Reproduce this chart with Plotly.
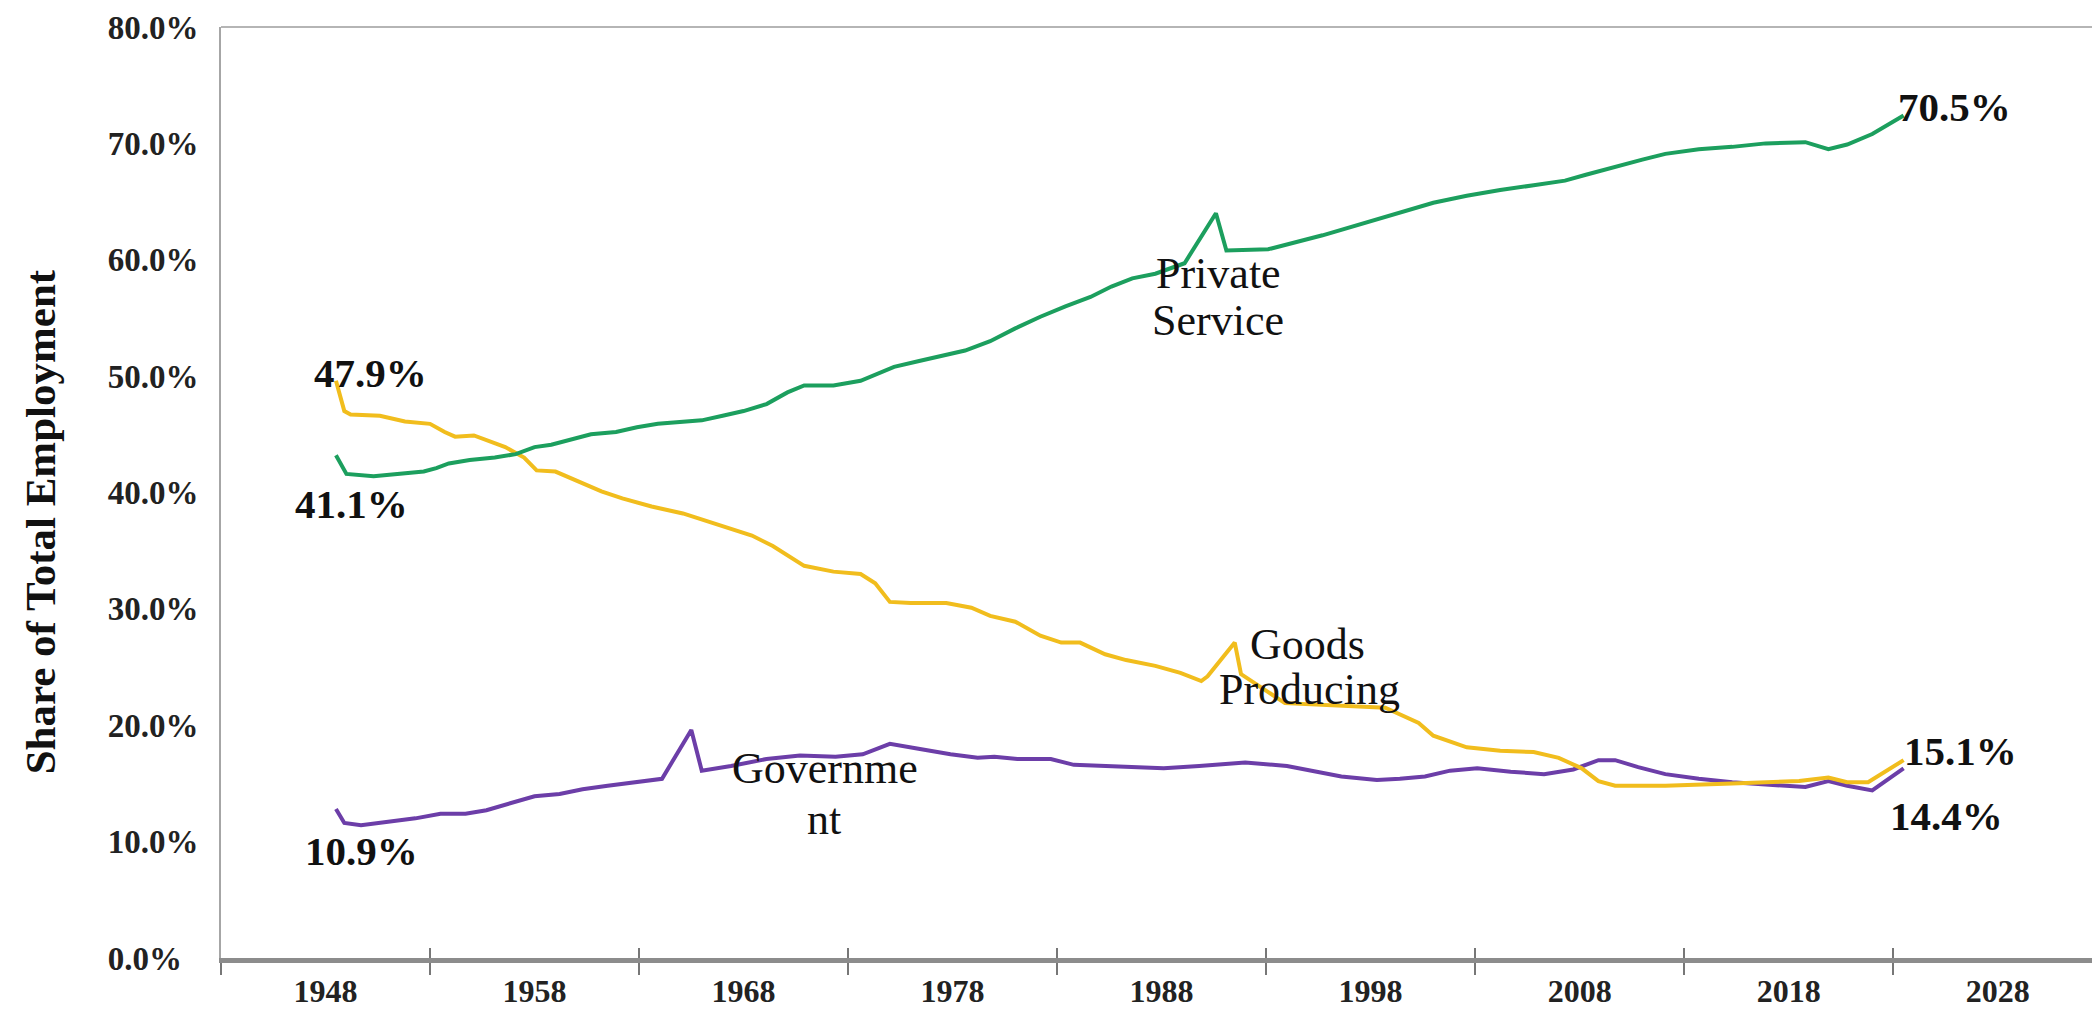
import plotly.graph_objects as go

# ---------------- data ----------------
private_x = [1948.0, 1948.5, 1949.8, 1951.0, 1952.2, 1952.8, 1953.4, 1954.4, 1955.6, 1956.6,
             1957.5, 1958.3, 1959.0, 1960.2, 1961.4, 1962.4, 1963.4, 1964.5, 1965.5, 1966.5,
             1967.5, 1968.6, 1969.6, 1970.4, 1971.8, 1973.1, 1973.8, 1974.7, 1975.9, 1976.9,
             1978.1, 1979.3, 1980.5, 1981.7, 1982.9, 1984.1, 1985.1, 1986.1, 1987.2, 1988.6,
             1990.1, 1990.6, 1992.6, 1995.2, 1996.9, 1998.9, 2000.5, 2002.1, 2003.7, 2005.3,
             2006.8, 2007.8, 2009.2, 2010.5, 2011.6, 2013.2, 2014.8, 2016.4, 2018.3, 2019.4,
             2020.3, 2021.5, 2023.0]
private_y = [43.2, 41.6, 41.4, 41.6, 41.8, 42.1, 42.5, 42.8, 43.0, 43.3,
             43.9, 44.1, 44.4, 45.0, 45.2, 45.6, 45.9, 46.1, 46.2, 46.6,
             47.0, 47.6, 48.6, 49.2, 49.2, 49.6, 50.1, 50.8, 51.3, 51.7,
             52.2, 53.0, 54.1, 55.1, 56.0, 56.8, 57.7, 58.4, 58.8, 59.7,
             64.0, 60.8, 60.9, 62.1, 63.0, 64.1, 64.9, 65.5, 66.0, 66.4,
             66.8, 67.3, 68.0, 68.6, 69.1, 69.5, 69.7, 70.0, 70.1, 69.5,
             69.9, 70.8, 72.4]

goods_x = [1948.0, 1948.4, 1948.7, 1950.1, 1951.3, 1952.5, 1953.2, 1953.7, 1954.6, 1955.2,
           1956.1, 1957.0, 1957.6, 1958.5, 1959.5, 1960.7, 1961.7, 1963.1, 1964.6, 1965.8,
           1966.9, 1967.9, 1968.9, 1969.6, 1970.4, 1971.8, 1973.1, 1973.8, 1974.5, 1975.5,
           1977.2, 1978.4, 1979.3, 1980.5, 1981.7, 1982.7, 1983.6, 1984.8, 1985.8, 1987.2,
           1988.4, 1989.4, 1989.7, 1991.0, 1991.3, 1993.4, 1998.2, 1999.8, 2000.5, 2002.1,
           2003.7, 2005.3, 2006.5, 2007.6, 2008.4, 2009.2, 2011.6, 2014.8, 2018.0, 2019.4,
           2020.3, 2021.3, 2023.0]
goods_y = [49.6, 47.0, 46.7, 46.6, 46.1, 45.9, 45.2, 44.8, 44.9, 44.5,
           43.9, 43.0, 41.9, 41.8, 41.0, 40.1, 39.5, 38.8, 38.2, 37.5,
           36.9, 36.3, 35.4, 34.6, 33.7, 33.2, 33.0, 32.2, 30.6, 30.5,
           30.5, 30.1, 29.4, 28.9, 27.7, 27.1, 27.1, 26.1, 25.6, 25.1,
           24.5, 23.8, 24.2, 27.1, 24.4, 21.9, 21.5, 20.2, 19.1, 18.1,
           17.8, 17.7, 17.2, 16.3, 15.2, 14.8, 14.8, 15.0, 15.2, 15.5,
           15.1, 15.1, 17.0]

gov_x = [1948.0, 1948.4, 1949.2, 1950.4, 1951.8, 1953.0, 1954.2, 1955.2, 1956.3, 1957.5,
         1958.7, 1959.8, 1961.0, 1962.2, 1963.6, 1965.0, 1965.5, 1966.9, 1968.6, 1970.2,
         1971.9, 1973.2, 1974.5, 1975.8, 1977.4, 1978.7, 1979.5, 1980.6, 1982.2, 1983.3,
         1985.0, 1987.6, 1989.3, 1991.5, 1993.5, 1996.1, 1997.8, 1998.9, 2000.1, 2001.3,
         2002.6, 2004.2, 2005.8, 2007.2, 2008.4, 2009.2, 2010.3, 2011.6, 2013.2, 2014.8,
         2016.4, 2018.3, 2019.4, 2020.3, 2021.5, 2023.0]
gov_y = [12.8, 11.6, 11.4, 11.7, 12.0, 12.4, 12.4, 12.7, 13.3, 13.9,
         14.1, 14.5, 14.8, 15.1, 15.4, 19.6, 16.1, 16.5, 17.1, 17.4,
         17.3, 17.5, 18.4, 18.0, 17.5, 17.2, 17.3, 17.1, 17.1, 16.6,
         16.5, 16.3, 16.5, 16.8, 16.5, 15.6, 15.3, 15.4, 15.6, 16.1,
         16.3, 16.0, 15.8, 16.2, 17.0, 17.0, 16.4, 15.8, 15.4, 15.1,
         14.9, 14.7, 15.2, 14.8, 14.4, 16.3]

# axis tick labels
x_tick_labels = ["1948", "1958", "1968", "1978", "1988", "1998", "2008", "2018", "2028"]
y_tick_values = [0, 10, 20, 30, 40, 50, 60, 70, 80]
y_tick_labels = ["0.0%\u2007", "10.0%", "20.0%", "30.0%", "40.0%", "50.0%", "60.0%", "70.0%", "80.0%"]

# ---------------- styling ----------------
FONT = "Liberation Serif, Times New Roman, serif"
GREEN = "#1c9f5e"
GOLD = "#f1bd1d"
PURPLE = "#6c3ea8"

x_start = 1942.5
x_end = 2032.3
label_pos = [x_start + 5 + 10 * i for i in range(len(x_tick_labels))]
boundary_pos = [x_start + 10 * i for i in range(len(x_tick_labels))]

fig = go.Figure()
fig.add_trace(go.Scatter(x=gov_x, y=gov_y, mode="lines", name="Government",
                         line=dict(color=PURPLE, width=4), hoverinfo="skip"))
fig.add_trace(go.Scatter(x=goods_x, y=goods_y, mode="lines", name="Goods Producing",
                         line=dict(color=GOLD, width=4), hoverinfo="skip"))
fig.add_trace(go.Scatter(x=private_x, y=private_y, mode="lines", name="Private Service",
                         line=dict(color=GREEN, width=4), hoverinfo="skip"))
# overlay axis carrying the inner half of the crossing tick marks
fig.add_trace(go.Scatter(x=[None], y=[None], xaxis="x2", showlegend=False, hoverinfo="skip"))

num_font = dict(family=FONT, size=41, color="#111111")
name_font = dict(family=FONT, size=44, color="#111111")

labels = [
    ("<b>47.9%</b>", 1949.64, 50.3, num_font),
    ("<b>41.1%</b>", 1948.73, 39.05, num_font),
    ("<b>10.9%</b>", 1949.21, 9.2, num_font),
    ("<b>70.5%</b>", 2025.42, 73.1, num_font),
    ("<b>15.1%</b>", 2025.73, 17.8, num_font),
    ("<b>14.4%</b>", 2025.06, 12.2, num_font),
    ("Private", 1990.22, 58.85, name_font),
    ("Service", 1990.22, 54.8, name_font),
    ("Goods", 1994.49, 26.9, name_font),
    ("Producing", 1994.57, 23.1, name_font),
    ("Governme", 1971.42, 16.3, name_font),
    ("nt", 1971.35, 11.86, name_font),
]
annotations = [dict(text=t, x=x, y=y, xref="x", yref="y", showarrow=False,
                    xanchor="center", yanchor="middle", font=f)
               for t, x, y, f in labels]
annotations.append(dict(text="<b>Share of Total Employment</b>", textangle=-90,
                        xref="paper", yref="paper", x=-0.0964, y=0.468,
                        xanchor="center", yanchor="middle", showarrow=False,
                        font=dict(family=FONT, size=43, color="#111111")))

tick_font = dict(family=FONT, size=33, color="#222222", weight="bold")
x_tick_font = dict(family=FONT, size=32, color="#222222", weight="bold")

# the page body adds an 8 px offset, so the figure is 8 px smaller and margins shifted
fig.update_layout(
    width=2092, height=1005,
    margin=dict(l=213, r=2, t=19, b=55),
    paper_bgcolor="white", plot_bgcolor="white",
    showlegend=False,
    annotations=annotations,
    xaxis=dict(range=[x_start, x_end], tickmode="array", tickvals=label_pos,
               ticktext=x_tick_labels, ticks="", showgrid=False, zeroline=False,
               showline=True, linecolor="#8c8c8c", linewidth=5,
               tickfont=x_tick_font, ticklabelstandoff=1, automargin=False,
               minor=dict(tickmode="array", tickvals=boundary_pos, ticks="outside",
                          ticklen=12, tickwidth=2, tickcolor="#777777", showgrid=False)),
    xaxis2=dict(overlaying="x", matches="x", anchor="y", side="bottom",
                range=[x_start, x_end], tickmode="array", tickvals=boundary_pos,
                ticks="inside", ticklen=10, tickwidth=2, tickcolor="#777777",
                showticklabels=False, showgrid=False, zeroline=False, showline=False),
    yaxis=dict(range=[0, 80], tickmode="array", tickvals=y_tick_values,
               ticktext=y_tick_labels, ticks="", showgrid=False, zeroline=False,
               showline=True, linecolor="#a6a6a6", linewidth=2, mirror=True,
               tickfont=tick_font, ticklabelstandoff=14, automargin=False),
    shapes=[dict(type="line", xref="paper", yref="paper", x0=0, x1=1, y0=1, y1=1,
                 line=dict(color="#b5b5b5", width=2))],
)

fig.write_html("out.html")
